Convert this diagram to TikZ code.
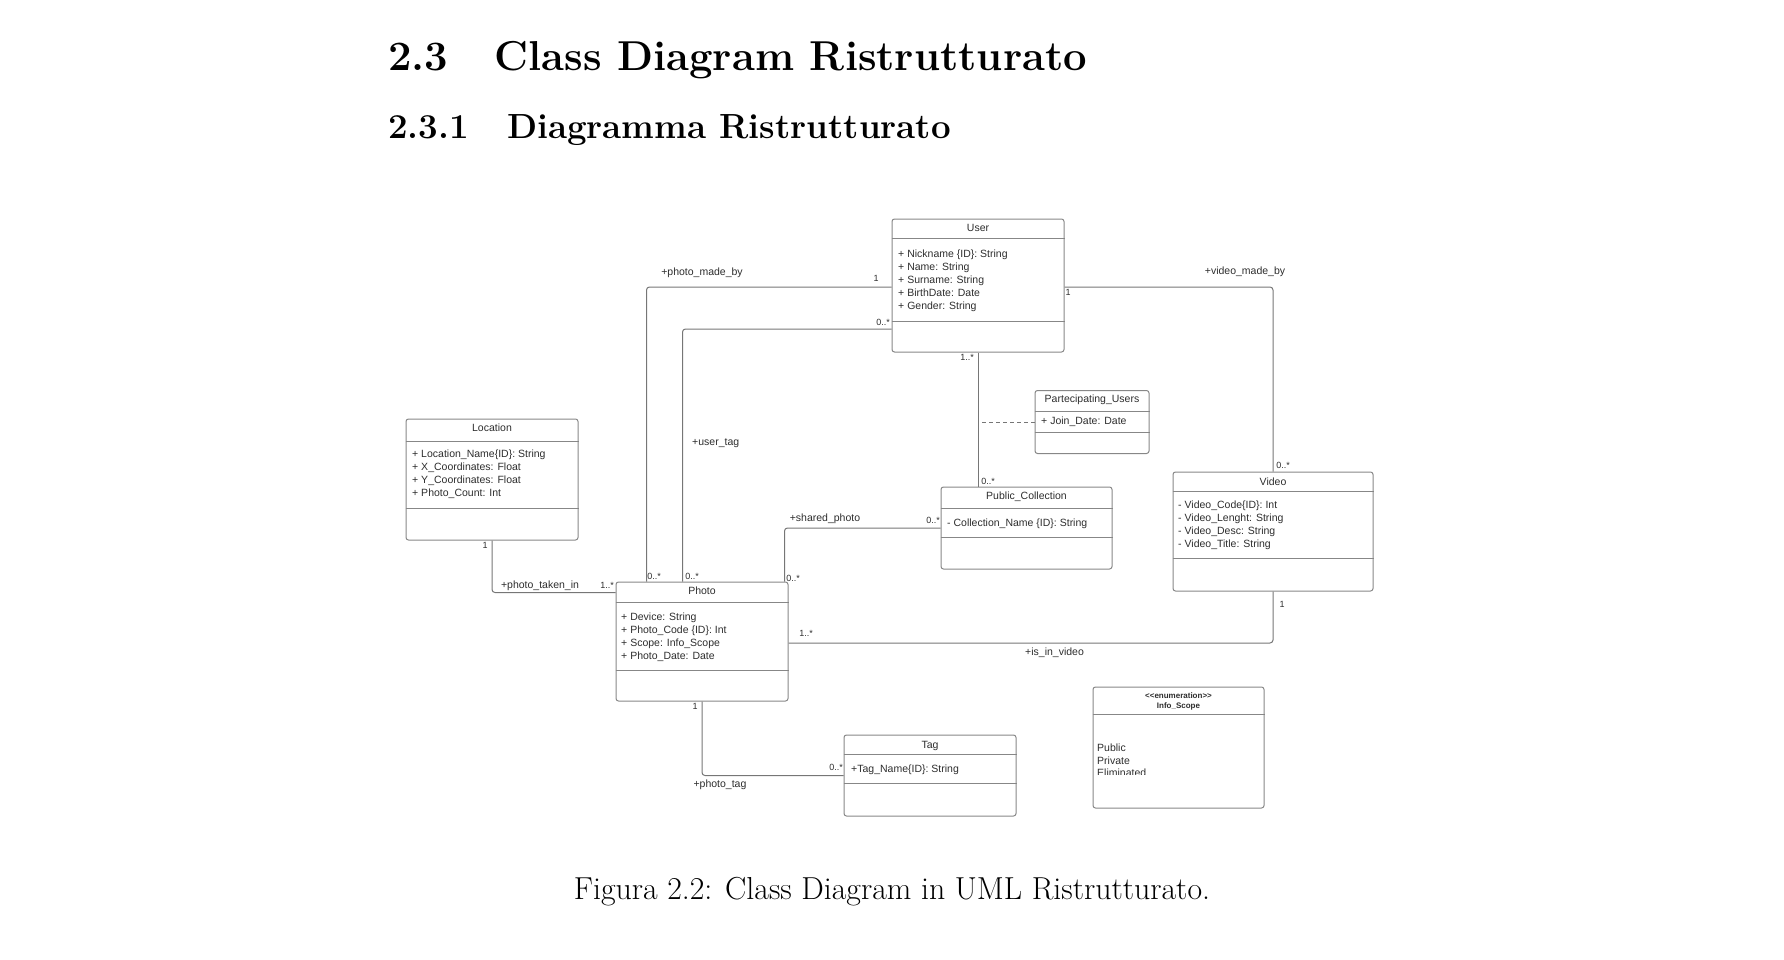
\documentclass[tikz,border=0pt]{standalone}
\usepackage{fontspec}
\setsansfont{Liberation Sans}
\usepackage{tikz}
\definecolor{umlline}{RGB}{118,118,118}
\definecolor{umlbox}{RGB}{135,135,135}
\definecolor{umltext}{RGB}{45,45,45}

\begin{document}
\begin{tikzpicture}[
  x=1pt,y=-1pt,
  every node/.style={font=\sffamily\fontsize{10.5}{12.8}\selectfont,text=umltext,inner sep=0pt},
  classbox/.style={draw=umlbox,line width=1pt,rounded corners=2.5pt},
  compline/.style={draw=umlbox,line width=1pt},
  classtitle/.style={anchor=base},
  attrlist/.style={anchor=north west,align=left},
  assoc/.style={draw=umlline,line width=1pt,rounded corners=3pt},
  assocdash/.style={draw=umlline,line width=0.8pt,dash pattern=on 4pt off 3pt},
  mult/.style={font=\sffamily\fontsize{9}{10}\selectfont},
  role/.style={anchor=center},
  heading/.style={anchor=base west,text=black}
]
\useasboundingbox (0,0) rectangle (1784,960);

\node[heading,font=\rmfamily\bfseries\fontsize{41.8}{50}\selectfont] (sectitle) at (388,71) {2.3\hspace{1.11em}Class Diagram Ristrutturato};
\node[heading,font=\rmfamily\bfseries\fontsize{34.9}{42}\selectfont] (subsectitle) at (388,139) {2.3.1\hspace{1.09em}Diagramma Ristrutturato};

\node[classbox,minimum width=172pt,minimum height=133pt] (user) at (978,285.5) {};
\node[classtitle] (usertitle) at ([yshift=-13.3pt]user.north) {User};
\node[attrlist] (userattr) at (898,250) {+ Nickname \{ID\}: String\\+ Name: String\\+ Surname: String\\+ BirthDate: Date\\+ Gender: String};
\draw[compline] ([yshift=-20pt]user.north west) -- ([yshift=-20pt]user.north east);
\draw[compline] ([yshift=-103pt]user.north west) -- ([yshift=-103pt]user.north east);

\node[classbox,minimum width=172pt,minimum height=121pt] (location) at (492,479.5) {};
\node[classtitle] (locationtitle) at ([yshift=-13.3pt]location.north) {Location};
\node[attrlist] (locationattr) at (412,450) {+ Location\_Name\{ID\}: String\\+ X\_Coordinates: Float\\+ Y\_Coordinates: Float\\+ Photo\_Count: Int};
\draw[compline] ([yshift=-23pt]location.north west) -- ([yshift=-23pt]location.north east);
\draw[compline] ([yshift=-90pt]location.north west) -- ([yshift=-90pt]location.north east);

\node[classbox,minimum width=172pt,minimum height=119pt] (photo) at (702,641.5) {};
\node[classtitle] (phototitle) at ([yshift=-13.3pt]photo.north) {Photo};
\node[attrlist] (photoattr) at (621,613) {+ Device: String\\+ Photo\_Code \{ID\}: Int\\+ Scope: Info\_Scope\\+ Photo\_Date: Date};
\draw[compline] ([yshift=-21pt]photo.north west) -- ([yshift=-21pt]photo.north east);
\draw[compline] ([yshift=-89pt]photo.north west) -- ([yshift=-89pt]photo.north east);

\node[classbox,minimum width=200pt,minimum height=119pt] (video) at (1273,531.5) {};
\node[classtitle] (videotitle) at ([yshift=-13.8pt]video.north) {Video};
\node[attrlist] (videoattr) at (1178,501) {- Video\_Code\{ID\}: Int\\- Video\_Lenght: String\\- Video\_Desc: String\\- Video\_Title: String};
\draw[compline] ([yshift=-20pt]video.north west) -- ([yshift=-20pt]video.north east);
\draw[compline] ([yshift=-87pt]video.north west) -- ([yshift=-87pt]video.north east);

\node[classbox,minimum width=171pt,minimum height=82pt] (pubcol) at (1026.5,528) {};
\node[classtitle] (pubcoltitle) at ([yshift=-13pt]pubcol.north) {Public\_Collection};
\node[attrlist] (pubcolattr) at (947,519) {- Collection\_Name \{ID\}: String};
\draw[compline] ([yshift=-22pt]pubcol.north west) -- ([yshift=-22pt]pubcol.north east);
\draw[compline] ([yshift=-51pt]pubcol.north west) -- ([yshift=-51pt]pubcol.north east);

\node[classbox,minimum width=114pt,minimum height=63pt] (partusers) at (1092,422) {};
\node[classtitle] (partuserstitle) at ([yshift=-12pt]partusers.north) {Partecipating\_Users};
\node[attrlist] (partusersattr) at (1041,417) {+ Join\_Date: Date};
\draw[compline] ([yshift=-21pt]partusers.north west) -- ([yshift=-21pt]partusers.north east);
\draw[compline] ([yshift=-42pt]partusers.north west) -- ([yshift=-42pt]partusers.north east);

\node[classbox,minimum width=172pt,minimum height=81pt] (tag) at (930,775.5) {};
\node[classtitle] (tagtitle) at ([yshift=-13.8pt]tag.north) {Tag};
\node[attrlist] (tagattr) at (851,765) {+Tag\_Name\{ID\}: String};
\draw[compline] ([yshift=-20pt]tag.north west) -- ([yshift=-20pt]tag.north east);
\draw[compline] ([yshift=-49pt]tag.north west) -- ([yshift=-49pt]tag.north east);

\node[classbox,minimum width=171pt,minimum height=121pt] (infoscope) at (1178.5,747.5) {};
\node[align=center,font=\sffamily\bfseries\fontsize{8}{10}\selectfont] (infoscopetitle) at (1178.5,701) {\textless\kern0pt\textless\kern0pt enumeration\textgreater\kern0pt\textgreater\\Info\_Scope};
\draw[compline] ([yshift=-28pt]infoscope.north west) -- ([yshift=-28pt]infoscope.north east);
\begin{scope}
\clip (1093,687) rectangle (1264,774);
\node[attrlist,font=\sffamily\fontsize{10.5}{12.5}\selectfont] (infoscopeattr) at (1097,744) {Public\\Private\\Eliminated};
\end{scope}

\draw[assoc] ([yshift=-1.5pt]user.west) -| ([xshift=31pt]photo.north west);
\draw[assoc] ([yshift=-43.5pt]user.west) -| ([xshift=67pt]photo.north west);
\draw[assoc] ([yshift=-1.5pt]user.east) -| (video.north);
\draw[assoc] (user.south) -- (user.south |- pubcol.north);
\coordinate (joinpt) at (partusers.west);
\draw[assocdash] (joinpt) -- (joinpt -| user.south);
\draw[assoc] ([xshift=-4pt]photo.north east) |- (pubcol.west);
\draw[assoc] ([yshift=-1.5pt]photo.east) -| (video.south);
\draw[assoc] (location.south) |- ([yshift=-11pt]photo.north west);
\draw[assoc] (photo.south) |- (tag.west);

\node[role] (madebylabel) at (702,273) {+photo\_made\_by};
\node[mult] (madebyuser) at (876,278) {1};
\node[mult] (madebyphoto) at (654,576) {0..*};
\node[role,anchor=west] (usertaglabel) at (692,443) {+user\_tag};
\node[mult] (usertaguser) at (883,322) {0..*};
\node[mult] (usertagphoto) at (692,576) {0..*};
\node[role] (videobylabel) at (1245,272) {+video\_made\_by};
\node[mult] (videobyuser) at (1068,292) {1};
\node[mult] (videobyvideo) at (1283,465) {0..*};
\node[mult] (partuser) at (967,357) {1..*};
\node[mult] (partcol) at (988,481) {0..*};
\node[role] (sharedlabel) at (825,519) {+shared\_photo};
\node[mult] (sharedcol) at (933,520) {0..*};
\node[mult] (sharedphoto) at (793,578) {0..*};
\node[mult] (invideophoto) at (806,633) {1..*};
\node[role,anchor=west] (invideolabel) at (1025,653) {+is\_in\_video};
\node[mult] (invideovideo) at (1282,604) {1};
\node[mult] (takenloc) at (485,545) {1};
\node[role] (takenlabel) at (540,586) {+photo\_taken\_in};
\node[mult] (takenphoto) at (607,585) {1..*};
\node[mult] (tagphoto) at (695,706) {1};
\node[mult] (tagtag) at (836,767) {0..*};
\node[role] (taglabel) at (720,785) {+photo\_tag};

\node[anchor=base,text=black,font=\rmfamily\fontsize{31.8}{38}\selectfont] (caption) at (892,899) {Figura 2.2: Class Diagram in UML Ristrutturato.};
\end{tikzpicture}
\end{document}
